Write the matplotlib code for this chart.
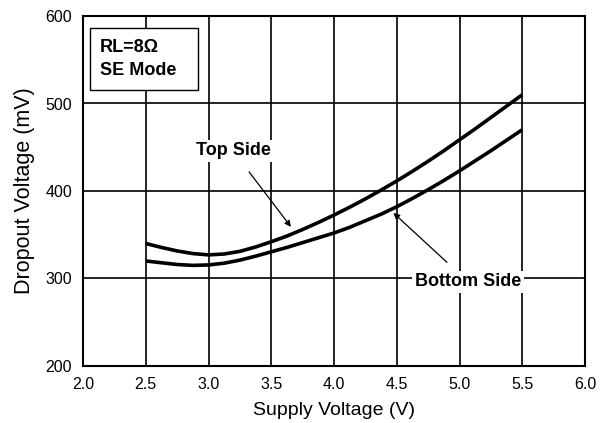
import matplotlib
matplotlib.use("Agg")
import matplotlib.pyplot as plt
from matplotlib.patches import Rectangle

plt.rcParams['font.family'] = ['Liberation Sans', 'DejaVu Sans']

supply_v = [2.5, 2.625, 2.75, 2.875, 3.0, 3.125, 3.25, 3.375, 3.5, 3.625, 3.75, 3.875,
            4.0, 4.125, 4.25, 4.375, 4.5, 4.625, 4.75, 4.875, 5.0, 5.125, 5.25, 5.375, 5.5]
top_side = [340, 335.5, 331.5, 328.5, 327, 328, 331, 336, 342, 348.5, 356, 364,
            372.5, 381.5, 391, 401, 411.5, 422.5, 434, 446, 458.5, 471, 484, 497, 510]
bottom_side = [320, 318, 316, 315, 315.5, 317.5, 321, 325.5, 330.5, 335.5, 341, 346.5,
               352, 358.5, 366, 373.5, 382, 391.5, 401.5, 412, 423, 434.5, 446, 458, 470]

xticks = [2.0, 2.5, 3.0, 3.5, 4.0, 4.5, 5.0, 5.5, 6.0]
yticks = [200, 300, 400, 500, 600]

fig = plt.figure(figsize=(6.03, 4.23), dpi=100)
ax = fig.add_axes([83/603, 1-366/423, (585-83)/603, (366-16)/423])

ax.plot(supply_v, top_side, color='black', lw=2.6, solid_capstyle='butt', zorder=3)
ax.plot(supply_v, bottom_side, color='black', lw=2.6, solid_capstyle='butt', zorder=3)

ax.set_xlim(2.0, 6.0)
ax.set_ylim(200, 600)
ax.set_xticks(xticks)
ax.set_xticklabels([f"{v:.1f}" for v in xticks])
ax.set_yticks(yticks)
ax.set_yticklabels([str(v) for v in yticks])
ax.tick_params(length=0, labelsize=11.5, pad=8)
ax.grid(True, color='black', lw=1.2)
ax.set_axisbelow(True)
for s in ax.spines.values():
    s.set_linewidth(1.5)

ax.set_xlabel("Supply Voltage (V)", fontsize=14, labelpad=7)
ax.set_ylabel("Dropout Voltage (mV)", fontsize=15.5, labelpad=7)

ax.annotate("Top Side", xy=(3.657, 359), xytext=(3.195, 446),
            fontsize=13, fontweight='bold', ha='center', va='center',
            bbox=dict(boxstyle='square,pad=0.15', fc='white', ec='none'),
            arrowprops=dict(arrowstyle='-|>', color='black', lw=0.9,
                            shrinkA=9, shrinkB=0, mutation_scale=9),
            zorder=4)
ax.annotate("Bottom Side", xy=(4.473, 375), xytext=(5.07, 296),
            fontsize=13, fontweight='bold', ha='center', va='center',
            bbox=dict(boxstyle='square,pad=0.15', fc='white', ec='none'),
            arrowprops=dict(arrowstyle='-|>', color='black', lw=0.9,
                            shrinkA=9, shrinkB=0, mutation_scale=9),
            zorder=4)

# info box
x0 = 2.0 + (90-83)/125.5
x1 = 2.0 + (198-83)/125.5
y1 = 200 + (366-28)/0.875
y0 = 200 + (366-90)/0.875
ax.add_patch(Rectangle((x0, y0), x1-x0, y1-y0, fc='white', ec='black', lw=1.0, zorder=4))
ax.text(x0 + 0.08, (y0+y1)/2, "RL=8Ω\nSE Mode", fontsize=13, fontweight='bold',
        ha='left', va='center', linespacing=1.45, zorder=5)

fig.savefig("out.png", dpi=100)
